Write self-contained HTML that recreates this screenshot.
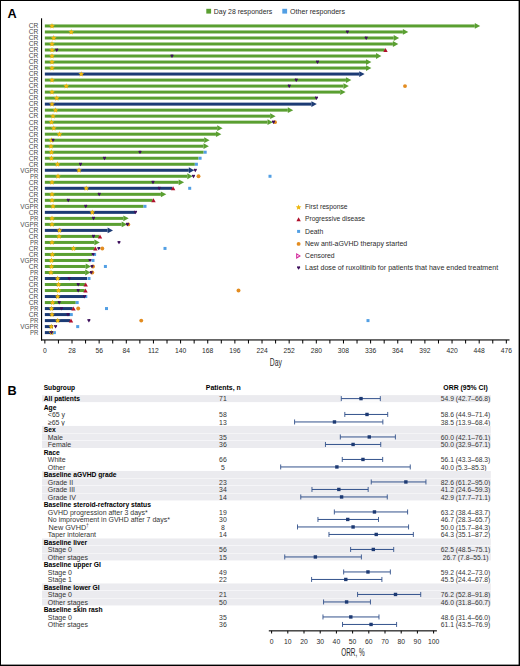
<!DOCTYPE html>
<html><head><meta charset="utf-8"><style>
html,body{margin:0;padding:0;background:#fff;}
svg{display:block;font-family:"Liberation Sans", sans-serif;}
</style></head><body>
<svg width="520" height="666" viewBox="0 0 520 666">
<rect x="0" y="0" width="520" height="666" fill="#000"/>
<rect x="1" y="1" width="517.6" height="663.6" fill="#fff"/>
<text x="7.6" y="18" font-size="12.7" font-weight="bold" fill="#000">A</text>
<rect x="206.30" y="8.80" width="4.8" height="4.8" fill="#5a9f31"/>
<text x="213.8" y="13.8" font-size="7.1" textLength="58.5" lengthAdjust="spacingAndGlyphs" fill="#2a2a2a">Day 28 responders</text>
<rect x="282.30" y="8.80" width="4.8" height="4.8" fill="#529fe4"/>
<text x="290.1" y="13.8" font-size="7.1" textLength="54.9" lengthAdjust="spacingAndGlyphs" fill="#2a2a2a">Other responders</text>
<rect x="41" y="18.3" width="1.1" height="322.2" fill="#000"/>
<rect x="41" y="339.4" width="468.5" height="1.1" fill="#000"/>
<rect x="44.35" y="340" width="1" height="3.5" fill="#000"/>
<rect x="57.92" y="340" width="1" height="3.5" fill="#000"/>
<rect x="71.50" y="340" width="1" height="3.5" fill="#000"/>
<rect x="85.07" y="340" width="1" height="3.5" fill="#000"/>
<rect x="98.64" y="340" width="1" height="3.5" fill="#000"/>
<rect x="112.22" y="340" width="1" height="3.5" fill="#000"/>
<rect x="125.79" y="340" width="1" height="3.5" fill="#000"/>
<rect x="139.36" y="340" width="1" height="3.5" fill="#000"/>
<rect x="152.93" y="340" width="1" height="3.5" fill="#000"/>
<rect x="166.51" y="340" width="1" height="3.5" fill="#000"/>
<rect x="180.08" y="340" width="1" height="3.5" fill="#000"/>
<rect x="193.65" y="340" width="1" height="3.5" fill="#000"/>
<rect x="207.23" y="340" width="1" height="3.5" fill="#000"/>
<rect x="220.80" y="340" width="1" height="3.5" fill="#000"/>
<rect x="234.37" y="340" width="1" height="3.5" fill="#000"/>
<rect x="247.94" y="340" width="1" height="3.5" fill="#000"/>
<rect x="261.52" y="340" width="1" height="3.5" fill="#000"/>
<rect x="275.09" y="340" width="1" height="3.5" fill="#000"/>
<rect x="288.66" y="340" width="1" height="3.5" fill="#000"/>
<rect x="302.24" y="340" width="1" height="3.5" fill="#000"/>
<rect x="315.81" y="340" width="1" height="3.5" fill="#000"/>
<rect x="329.38" y="340" width="1" height="3.5" fill="#000"/>
<rect x="342.96" y="340" width="1" height="3.5" fill="#000"/>
<rect x="356.53" y="340" width="1" height="3.5" fill="#000"/>
<rect x="370.10" y="340" width="1" height="3.5" fill="#000"/>
<rect x="383.68" y="340" width="1" height="3.5" fill="#000"/>
<rect x="397.25" y="340" width="1" height="3.5" fill="#000"/>
<rect x="410.82" y="340" width="1" height="3.5" fill="#000"/>
<rect x="424.39" y="340" width="1" height="3.5" fill="#000"/>
<rect x="437.97" y="340" width="1" height="3.5" fill="#000"/>
<rect x="451.54" y="340" width="1" height="3.5" fill="#000"/>
<rect x="465.11" y="340" width="1" height="3.5" fill="#000"/>
<rect x="478.69" y="340" width="1" height="3.5" fill="#000"/>
<rect x="492.26" y="340" width="1" height="3.5" fill="#000"/>
<rect x="505.83" y="340" width="1" height="3.5" fill="#000"/>
<text x="44.85" y="352.9" font-size="7.2" text-anchor="middle" textLength="3.75" lengthAdjust="spacingAndGlyphs" fill="#2a2a2a">0</text>
<text x="72.0" y="352.9" font-size="7.2" text-anchor="middle" textLength="7.51" lengthAdjust="spacingAndGlyphs" fill="#2a2a2a">28</text>
<text x="99.14" y="352.9" font-size="7.2" text-anchor="middle" textLength="7.51" lengthAdjust="spacingAndGlyphs" fill="#2a2a2a">56</text>
<text x="126.29" y="352.9" font-size="7.2" text-anchor="middle" textLength="7.51" lengthAdjust="spacingAndGlyphs" fill="#2a2a2a">84</text>
<text x="153.43" y="352.9" font-size="7.2" text-anchor="middle" textLength="10.76" lengthAdjust="spacingAndGlyphs" fill="#2a2a2a">112</text>
<text x="180.58" y="352.9" font-size="7.2" text-anchor="middle" textLength="11.26" lengthAdjust="spacingAndGlyphs" fill="#2a2a2a">140</text>
<text x="207.73" y="352.9" font-size="7.2" text-anchor="middle" textLength="11.26" lengthAdjust="spacingAndGlyphs" fill="#2a2a2a">168</text>
<text x="234.87" y="352.9" font-size="7.2" text-anchor="middle" textLength="11.26" lengthAdjust="spacingAndGlyphs" fill="#2a2a2a">196</text>
<text x="262.02" y="352.9" font-size="7.2" text-anchor="middle" textLength="11.26" lengthAdjust="spacingAndGlyphs" fill="#2a2a2a">224</text>
<text x="289.16" y="352.9" font-size="7.2" text-anchor="middle" textLength="11.26" lengthAdjust="spacingAndGlyphs" fill="#2a2a2a">252</text>
<text x="316.31" y="352.9" font-size="7.2" text-anchor="middle" textLength="11.26" lengthAdjust="spacingAndGlyphs" fill="#2a2a2a">280</text>
<text x="343.46" y="352.9" font-size="7.2" text-anchor="middle" textLength="11.26" lengthAdjust="spacingAndGlyphs" fill="#2a2a2a">308</text>
<text x="370.6" y="352.9" font-size="7.2" text-anchor="middle" textLength="11.26" lengthAdjust="spacingAndGlyphs" fill="#2a2a2a">336</text>
<text x="397.75" y="352.9" font-size="7.2" text-anchor="middle" textLength="11.26" lengthAdjust="spacingAndGlyphs" fill="#2a2a2a">364</text>
<text x="424.89" y="352.9" font-size="7.2" text-anchor="middle" textLength="11.26" lengthAdjust="spacingAndGlyphs" fill="#2a2a2a">392</text>
<text x="452.04" y="352.9" font-size="7.2" text-anchor="middle" textLength="11.26" lengthAdjust="spacingAndGlyphs" fill="#2a2a2a">420</text>
<text x="479.19" y="352.9" font-size="7.2" text-anchor="middle" textLength="11.26" lengthAdjust="spacingAndGlyphs" fill="#2a2a2a">448</text>
<text x="506.33" y="352.9" font-size="7.2" text-anchor="middle" textLength="11.26" lengthAdjust="spacingAndGlyphs" fill="#2a2a2a">476</text>
<text x="275.8" y="365.8" font-size="10.0" text-anchor="middle" textLength="12.1" lengthAdjust="spacingAndGlyphs" fill="#2a2a2a">Day</text>
<rect x="44.85" y="24.45" width="429.95" height="3" fill="#5a9f31"/>
<polygon points="474.80,23.05 480.20,25.95 474.80,28.85" fill="#5a9f31"/>
<text x="38.3" y="28.3" font-size="7.6" text-anchor="end" textLength="9.6" lengthAdjust="spacingAndGlyphs" fill="#4a4a4a">CR</text>
<rect x="44.85" y="30.46" width="358.05" height="3" fill="#5a9f31"/>
<polygon points="402.90,29.06 408.30,31.96 402.90,34.86" fill="#5a9f31"/>
<text x="38.3" y="34.31" font-size="7.6" text-anchor="end" textLength="9.6" lengthAdjust="spacingAndGlyphs" fill="#4a4a4a">CR</text>
<rect x="44.85" y="36.48" width="348.85" height="3" fill="#5a9f31"/>
<polygon points="393.70,35.08 399.10,37.98 393.70,40.88" fill="#5a9f31"/>
<text x="38.3" y="40.33" font-size="7.6" text-anchor="end" textLength="9.6" lengthAdjust="spacingAndGlyphs" fill="#4a4a4a">CR</text>
<rect x="44.85" y="42.49" width="348.05" height="3" fill="#5a9f31"/>
<polygon points="392.90,41.09 398.30,43.99 392.90,46.89" fill="#5a9f31"/>
<text x="38.3" y="46.34" font-size="7.6" text-anchor="end" textLength="9.6" lengthAdjust="spacingAndGlyphs" fill="#4a4a4a">CR</text>
<rect x="44.85" y="48.50" width="339.95" height="3" fill="#5a9f31"/>
<text x="38.3" y="52.35" font-size="7.6" text-anchor="end" textLength="9.6" lengthAdjust="spacingAndGlyphs" fill="#4a4a4a">CR</text>
<rect x="44.85" y="54.52" width="331.15" height="3" fill="#5a9f31"/>
<polygon points="376.00,53.12 381.40,56.02 376.00,58.91" fill="#5a9f31"/>
<text x="38.3" y="58.37" font-size="7.6" text-anchor="end" textLength="9.6" lengthAdjust="spacingAndGlyphs" fill="#4a4a4a">CR</text>
<rect x="44.85" y="60.53" width="321.15" height="3" fill="#5a9f31"/>
<polygon points="366.00,59.13 371.40,62.03 366.00,64.93" fill="#5a9f31"/>
<text x="38.3" y="64.38" font-size="7.6" text-anchor="end" textLength="9.6" lengthAdjust="spacingAndGlyphs" fill="#4a4a4a">CR</text>
<rect x="44.85" y="66.54" width="321.15" height="3" fill="#5a9f31"/>
<polygon points="366.00,65.14 371.40,68.04 366.00,70.94" fill="#5a9f31"/>
<text x="38.3" y="70.39" font-size="7.6" text-anchor="end" textLength="9.6" lengthAdjust="spacingAndGlyphs" fill="#4a4a4a">CR</text>
<rect x="44.85" y="72.55" width="314.35" height="3" fill="#1c3b74"/>
<polygon points="359.20,71.15 364.60,74.05 359.20,76.95" fill="#1c3b74"/>
<text x="38.3" y="76.4" font-size="7.6" text-anchor="end" textLength="9.6" lengthAdjust="spacingAndGlyphs" fill="#4a4a4a">CR</text>
<rect x="44.85" y="78.57" width="301.10" height="3" fill="#5a9f31"/>
<polygon points="345.95,77.17 351.35,80.07 345.95,82.97" fill="#5a9f31"/>
<text x="38.3" y="82.42" font-size="7.6" text-anchor="end" textLength="9.6" lengthAdjust="spacingAndGlyphs" fill="#4a4a4a">CR</text>
<rect x="44.85" y="84.58" width="298.60" height="3" fill="#5a9f31"/>
<polygon points="343.45,83.18 348.85,86.08 343.45,88.98" fill="#5a9f31"/>
<text x="38.3" y="88.43" font-size="7.6" text-anchor="end" textLength="9.6" lengthAdjust="spacingAndGlyphs" fill="#4a4a4a">CR</text>
<rect x="44.85" y="90.59" width="295.35" height="3" fill="#5a9f31"/>
<polygon points="340.20,89.19 345.60,92.09 340.20,94.99" fill="#5a9f31"/>
<text x="38.3" y="94.44" font-size="7.6" text-anchor="end" textLength="9.6" lengthAdjust="spacingAndGlyphs" fill="#4a4a4a">CR</text>
<rect x="44.85" y="96.61" width="271.40" height="3" fill="#5a9f31"/>
<text x="38.3" y="100.46" font-size="7.6" text-anchor="end" textLength="9.6" lengthAdjust="spacingAndGlyphs" fill="#4a4a4a">CR</text>
<rect x="44.85" y="102.62" width="266.55" height="3" fill="#1c3b74"/>
<polygon points="311.40,101.22 316.80,104.12 311.40,107.02" fill="#1c3b74"/>
<text x="38.3" y="106.47" font-size="7.6" text-anchor="end" textLength="9.6" lengthAdjust="spacingAndGlyphs" fill="#4a4a4a">CR</text>
<rect x="44.85" y="108.63" width="242.95" height="3" fill="#5a9f31"/>
<polygon points="287.80,107.23 293.20,110.13 287.80,113.03" fill="#5a9f31"/>
<text x="38.3" y="112.48" font-size="7.6" text-anchor="end" textLength="9.6" lengthAdjust="spacingAndGlyphs" fill="#4a4a4a">CR</text>
<rect x="44.85" y="114.64" width="225.35" height="3" fill="#5a9f31"/>
<polygon points="270.20,113.24 275.60,116.14 270.20,119.05" fill="#5a9f31"/>
<text x="38.3" y="118.49" font-size="7.6" text-anchor="end" textLength="9.6" lengthAdjust="spacingAndGlyphs" fill="#4a4a4a">CR</text>
<rect x="44.85" y="120.66" width="222.65" height="3" fill="#5a9f31"/>
<polygon points="267.50,119.26 272.90,122.16 267.50,125.06" fill="#5a9f31"/>
<text x="38.3" y="124.51" font-size="7.6" text-anchor="end" textLength="9.6" lengthAdjust="spacingAndGlyphs" fill="#4a4a4a">CR</text>
<rect x="44.85" y="126.67" width="172.35" height="3" fill="#5a9f31"/>
<polygon points="217.20,125.27 222.60,128.17 217.20,131.07" fill="#5a9f31"/>
<text x="38.3" y="130.52" font-size="7.6" text-anchor="end" textLength="9.6" lengthAdjust="spacingAndGlyphs" fill="#4a4a4a">CR</text>
<rect x="44.85" y="132.68" width="171.10" height="3" fill="#5a9f31"/>
<polygon points="215.95,131.28 221.35,134.18 215.95,137.08" fill="#5a9f31"/>
<text x="38.3" y="136.53" font-size="7.6" text-anchor="end" textLength="9.6" lengthAdjust="spacingAndGlyphs" fill="#4a4a4a">CR</text>
<rect x="44.85" y="138.70" width="159.35" height="3" fill="#5a9f31"/>
<polygon points="204.20,137.30 209.60,140.20 204.20,143.10" fill="#5a9f31"/>
<text x="38.3" y="142.55" font-size="7.6" text-anchor="end" textLength="9.6" lengthAdjust="spacingAndGlyphs" fill="#4a4a4a">CR</text>
<rect x="44.85" y="144.71" width="158.65" height="3" fill="#5a9f31"/>
<polygon points="203.50,143.31 208.90,146.21 203.50,149.11" fill="#5a9f31"/>
<text x="38.3" y="148.56" font-size="7.6" text-anchor="end" textLength="9.6" lengthAdjust="spacingAndGlyphs" fill="#4a4a4a">CR</text>
<rect x="44.85" y="150.72" width="158.75" height="3" fill="#5a9f31"/>
<text x="38.3" y="154.57" font-size="7.6" text-anchor="end" textLength="9.6" lengthAdjust="spacingAndGlyphs" fill="#4a4a4a">CR</text>
<rect x="44.85" y="156.74" width="153.65" height="3" fill="#5a9f31"/>
<text x="38.3" y="160.59" font-size="7.6" text-anchor="end" textLength="9.6" lengthAdjust="spacingAndGlyphs" fill="#4a4a4a">CR</text>
<rect x="44.85" y="162.75" width="149.95" height="3" fill="#5a9f31"/>
<text x="38.3" y="166.6" font-size="7.6" text-anchor="end" textLength="9.6" lengthAdjust="spacingAndGlyphs" fill="#4a4a4a">CR</text>
<rect x="44.85" y="168.76" width="143.95" height="3" fill="#1c3b74"/>
<polygon points="188.80,167.36 194.20,170.26 188.80,173.16" fill="#1c3b74"/>
<text x="38.3" y="172.61" font-size="7.6" text-anchor="end" textLength="18.0" lengthAdjust="spacingAndGlyphs" fill="#4a4a4a">VGPR</text>
<rect x="44.85" y="174.77" width="142.45" height="3" fill="#5a9f31"/>
<polygon points="187.30,173.37 192.70,176.27 187.30,179.17" fill="#5a9f31"/>
<text x="38.3" y="178.62" font-size="7.6" text-anchor="end" textLength="8.3" lengthAdjust="spacingAndGlyphs" fill="#4a4a4a">PR</text>
<rect x="44.85" y="180.79" width="133.85" height="3" fill="#5a9f31"/>
<polygon points="178.70,179.39 184.10,182.29 178.70,185.19" fill="#5a9f31"/>
<text x="38.3" y="184.64" font-size="7.6" text-anchor="end" textLength="9.6" lengthAdjust="spacingAndGlyphs" fill="#4a4a4a">CR</text>
<rect x="44.85" y="186.80" width="127.45" height="3" fill="#1c3b74"/>
<text x="38.3" y="190.65" font-size="7.6" text-anchor="end" textLength="9.6" lengthAdjust="spacingAndGlyphs" fill="#4a4a4a">CR</text>
<rect x="44.85" y="192.81" width="116.05" height="3" fill="#5a9f31"/>
<polygon points="160.90,191.41 166.30,194.31 160.90,197.21" fill="#5a9f31"/>
<text x="38.3" y="196.66" font-size="7.6" text-anchor="end" textLength="9.6" lengthAdjust="spacingAndGlyphs" fill="#4a4a4a">CR</text>
<rect x="44.85" y="198.83" width="107.85" height="3" fill="#5a9f31"/>
<text x="38.3" y="202.68" font-size="7.6" text-anchor="end" textLength="9.6" lengthAdjust="spacingAndGlyphs" fill="#4a4a4a">CR</text>
<rect x="44.85" y="204.84" width="98.65" height="3" fill="#5a9f31"/>
<text x="38.3" y="208.69" font-size="7.6" text-anchor="end" textLength="18.0" lengthAdjust="spacingAndGlyphs" fill="#4a4a4a">VGPR</text>
<rect x="44.85" y="210.85" width="90.15" height="3" fill="#1c3b74"/>
<text x="38.3" y="214.7" font-size="7.6" text-anchor="end" textLength="9.6" lengthAdjust="spacingAndGlyphs" fill="#4a4a4a">CR</text>
<rect x="44.85" y="216.87" width="78.45" height="3" fill="#5a9f31"/>
<polygon points="123.30,215.47 128.70,218.37 123.30,221.27" fill="#5a9f31"/>
<text x="38.3" y="220.72" font-size="7.6" text-anchor="end" textLength="8.3" lengthAdjust="spacingAndGlyphs" fill="#4a4a4a">PR</text>
<rect x="44.85" y="222.88" width="76.85" height="3" fill="#5a9f31"/>
<polygon points="121.70,221.48 127.10,224.38 121.70,227.28" fill="#5a9f31"/>
<text x="38.3" y="226.73" font-size="7.6" text-anchor="end" textLength="18.0" lengthAdjust="spacingAndGlyphs" fill="#4a4a4a">VGPR</text>
<rect x="44.85" y="228.89" width="62.75" height="3" fill="#1c3b74"/>
<polygon points="107.60,227.49 113.00,230.39 107.60,233.29" fill="#1c3b74"/>
<text x="38.3" y="232.74" font-size="7.6" text-anchor="end" textLength="9.6" lengthAdjust="spacingAndGlyphs" fill="#4a4a4a">CR</text>
<rect x="44.85" y="234.90" width="54.35" height="3" fill="#5a9f31"/>
<text x="38.3" y="238.75" font-size="7.6" text-anchor="end" textLength="9.6" lengthAdjust="spacingAndGlyphs" fill="#4a4a4a">CR</text>
<rect x="44.85" y="240.92" width="49.55" height="3" fill="#5a9f31"/>
<polygon points="94.40,239.52 99.80,242.42 94.40,245.32" fill="#5a9f31"/>
<text x="38.3" y="244.77" font-size="7.6" text-anchor="end" textLength="8.3" lengthAdjust="spacingAndGlyphs" fill="#4a4a4a">PR</text>
<rect x="44.85" y="246.93" width="49.75" height="3" fill="#5a9f31"/>
<text x="38.3" y="250.78" font-size="7.6" text-anchor="end" textLength="9.6" lengthAdjust="spacingAndGlyphs" fill="#4a4a4a">CR</text>
<rect x="44.85" y="252.94" width="47.45" height="3" fill="#5a9f31"/>
<text x="38.3" y="256.79" font-size="7.6" text-anchor="end" textLength="9.6" lengthAdjust="spacingAndGlyphs" fill="#4a4a4a">CR</text>
<rect x="44.85" y="258.96" width="44.35" height="3" fill="#5a9f31"/>
<text x="38.3" y="262.81" font-size="7.6" text-anchor="end" textLength="18.0" lengthAdjust="spacingAndGlyphs" fill="#4a4a4a">VGPR</text>
<rect x="44.85" y="264.97" width="40.85" height="3" fill="#5a9f31"/>
<polygon points="85.70,263.57 91.10,266.47 85.70,269.37" fill="#5a9f31"/>
<text x="38.3" y="268.82" font-size="7.6" text-anchor="end" textLength="9.6" lengthAdjust="spacingAndGlyphs" fill="#4a4a4a">CR</text>
<rect x="44.85" y="270.98" width="40.35" height="3" fill="#5a9f31"/>
<polygon points="85.20,269.58 90.60,272.48 85.20,275.38" fill="#5a9f31"/>
<text x="38.3" y="274.83" font-size="7.6" text-anchor="end" textLength="8.3" lengthAdjust="spacingAndGlyphs" fill="#4a4a4a">PR</text>
<rect x="44.85" y="277.00" width="42.15" height="3" fill="#1c3b74"/>
<text x="38.3" y="280.85" font-size="7.6" text-anchor="end" textLength="9.6" lengthAdjust="spacingAndGlyphs" fill="#4a4a4a">CR</text>
<rect x="44.85" y="283.01" width="40.05" height="3" fill="#5a9f31"/>
<text x="38.3" y="286.86" font-size="7.6" text-anchor="end" textLength="9.6" lengthAdjust="spacingAndGlyphs" fill="#4a4a4a">CR</text>
<rect x="44.85" y="289.02" width="39.85" height="3" fill="#5a9f31"/>
<text x="38.3" y="292.87" font-size="7.6" text-anchor="end" textLength="9.6" lengthAdjust="spacingAndGlyphs" fill="#4a4a4a">CR</text>
<rect x="44.85" y="295.03" width="39.75" height="3" fill="#1c3b74"/>
<text x="38.3" y="298.88" font-size="7.6" text-anchor="end" textLength="9.6" lengthAdjust="spacingAndGlyphs" fill="#4a4a4a">CR</text>
<rect x="44.85" y="301.05" width="30.85" height="3" fill="#5a9f31"/>
<text x="38.3" y="304.9" font-size="7.6" text-anchor="end" textLength="9.6" lengthAdjust="spacingAndGlyphs" fill="#4a4a4a">CR</text>
<rect x="44.85" y="307.06" width="27.85" height="3" fill="#1c3b74"/>
<text x="38.3" y="310.91" font-size="7.6" text-anchor="end" textLength="8.3" lengthAdjust="spacingAndGlyphs" fill="#4a4a4a">PR</text>
<rect x="44.85" y="313.07" width="25.15" height="3" fill="#1c3b74"/>
<text x="38.3" y="316.92" font-size="7.6" text-anchor="end" textLength="9.6" lengthAdjust="spacingAndGlyphs" fill="#4a4a4a">CR</text>
<rect x="44.85" y="319.09" width="25.35" height="3" fill="#1c3b74"/>
<text x="38.3" y="322.94" font-size="7.6" text-anchor="end" textLength="8.3" lengthAdjust="spacingAndGlyphs" fill="#4a4a4a">PR</text>
<rect x="44.85" y="325.10" width="8.15" height="3" fill="#1c3b74"/>
<text x="38.3" y="328.95" font-size="7.6" text-anchor="end" textLength="18.0" lengthAdjust="spacingAndGlyphs" fill="#4a4a4a">VGPR</text>
<rect x="44.85" y="331.11" width="8.95" height="3" fill="#1c3b74"/>
<text x="38.3" y="334.96" font-size="7.6" text-anchor="end" textLength="8.3" lengthAdjust="spacingAndGlyphs" fill="#4a4a4a">PR</text>
<polygon points="52.00,23.05 52.79,24.96 54.85,25.12 53.28,26.47 53.76,28.48 52.00,27.40 50.24,28.48 50.72,26.47 49.15,25.12 51.21,24.96" fill="#edb70e"/>
<path d="M345.80,31.46 C345.80,30.26 347.00,30.16 347.40,30.86 C347.80,30.16 349.00,30.26 349.00,31.46 L347.40,33.86 Z" fill="#3d0f5c"/>
<polygon points="71.25,29.06 72.04,30.97 74.10,31.14 72.53,32.48 73.01,34.49 71.25,33.41 69.49,34.49 69.97,32.48 68.40,31.14 70.46,30.97" fill="#edb70e"/>
<path d="M364.60,37.48 C364.60,36.28 365.80,36.18 366.20,36.88 C366.60,36.18 367.80,36.28 367.80,37.48 L366.20,39.88 Z" fill="#3d0f5c"/>
<polygon points="53.75,35.08 54.54,36.98 56.60,37.15 55.03,38.49 55.51,40.50 53.75,39.43 51.99,40.50 52.47,38.49 50.90,37.15 52.96,36.98" fill="#edb70e"/>
<polygon points="52.00,41.09 52.79,43.00 54.85,43.16 53.28,44.51 53.76,46.52 52.00,45.44 50.24,46.52 50.72,44.51 49.15,43.16 51.21,43.00" fill="#edb70e"/>
<polygon points="383.30,52.00 387.70,52.00 385.50,48.00" fill="#b0102c"/>
<path d="M55.15,49.50 C55.15,48.30 56.35,48.20 56.75,48.90 C57.15,48.20 58.35,48.30 58.35,49.50 L56.75,51.90 Z" fill="#3d0f5c"/>
<polygon points="52.00,47.10 52.79,49.01 54.85,49.17 53.28,50.52 53.76,52.53 52.00,51.45 50.24,52.53 50.72,50.52 49.15,49.17 51.21,49.01" fill="#edb70e"/>
<path d="M170.40,55.52 C170.40,54.31 171.60,54.22 172.00,54.91 C172.40,54.22 173.60,54.31 173.60,55.52 L172.00,57.91 Z" fill="#3d0f5c"/>
<polygon points="52.00,53.12 52.79,55.02 54.85,55.19 53.28,56.53 53.76,58.54 52.00,57.47 50.24,58.54 50.72,56.53 49.15,55.19 51.21,55.02" fill="#edb70e"/>
<path d="M315.90,61.53 C315.90,60.33 317.10,60.23 317.50,60.93 C317.90,60.23 319.10,60.33 319.10,61.53 L317.50,63.93 Z" fill="#3d0f5c"/>
<polygon points="52.00,59.13 52.79,61.04 54.85,61.20 53.28,62.55 53.76,64.56 52.00,63.48 50.24,64.56 50.72,62.55 49.15,61.20 51.21,61.04" fill="#edb70e"/>
<polygon points="52.00,65.14 52.79,67.05 54.85,67.21 53.28,68.56 53.76,70.57 52.00,69.49 50.24,70.57 50.72,68.56 49.15,67.21 51.21,67.05" fill="#edb70e"/>
<polygon points="81.25,71.15 82.04,73.06 84.10,73.23 82.53,74.57 83.01,76.58 81.25,75.50 79.49,76.58 79.97,74.57 78.40,73.23 80.46,73.06" fill="#edb70e"/>
<path d="M294.65,79.57 C294.65,78.37 295.85,78.27 296.25,78.97 C296.65,78.27 297.85,78.37 297.85,79.57 L296.25,81.97 Z" fill="#3d0f5c"/>
<polygon points="52.00,77.17 52.79,79.07 54.85,79.24 53.28,80.58 53.76,82.59 52.00,81.52 50.24,82.59 50.72,80.58 49.15,79.24 51.21,79.07" fill="#edb70e"/>
<circle cx="405.00" cy="86.08" r="1.95" fill="#e38c20"/>
<path d="M287.65,85.58 C287.65,84.38 288.85,84.28 289.25,84.98 C289.65,84.28 290.85,84.38 290.85,85.58 L289.25,87.98 Z" fill="#3d0f5c"/>
<polygon points="66.25,83.18 67.04,85.09 69.10,85.25 67.53,86.60 68.01,88.61 66.25,87.53 64.49,88.61 64.97,86.60 63.40,85.25 65.46,85.09" fill="#edb70e"/>
<polygon points="52.00,89.19 52.79,91.10 54.85,91.27 53.28,92.61 53.76,94.62 52.00,93.54 50.24,94.62 50.72,92.61 49.15,91.27 51.21,91.10" fill="#edb70e"/>
<path d="M314.90,97.61 C314.90,96.41 316.10,96.31 316.50,97.01 C316.90,96.31 318.10,96.41 318.10,97.61 L316.50,100.01 Z" fill="#3d0f5c"/>
<polygon points="56.75,95.21 57.54,97.11 59.60,97.28 58.03,98.62 58.51,100.63 56.75,99.56 54.99,100.63 55.47,98.62 53.90,97.28 55.96,97.11" fill="#edb70e"/>
<polygon points="52.00,101.22 52.79,103.13 54.85,103.29 53.28,104.64 53.76,106.65 52.00,105.57 50.24,106.65 50.72,104.64 49.15,103.29 51.21,103.13" fill="#edb70e"/>
<polygon points="55.50,107.23 56.29,109.14 58.35,109.30 56.78,110.65 57.26,112.66 55.50,111.58 53.74,112.66 54.22,110.65 52.65,109.30 54.71,109.14" fill="#edb70e"/>
<polygon points="53.00,113.24 53.79,115.15 55.85,115.32 54.28,116.66 54.76,118.67 53.00,117.59 51.24,118.67 51.72,116.66 50.15,115.32 52.21,115.15" fill="#edb70e"/>
<circle cx="275.00" cy="122.16" r="1.95" fill="#e38c20"/>
<path d="M271.90,121.66 C271.90,120.46 273.10,120.36 273.50,121.06 C273.90,120.36 275.10,120.46 275.10,121.66 L273.50,124.06 Z" fill="#3d0f5c"/>
<polygon points="51.50,119.26 52.29,121.17 54.35,121.33 52.78,122.68 53.26,124.69 51.50,123.61 49.74,124.69 50.22,122.68 48.65,121.33 50.71,121.17" fill="#edb70e"/>
<polygon points="53.75,125.27 54.54,127.18 56.60,127.34 55.03,128.69 55.51,130.70 53.75,129.62 51.99,130.70 52.47,128.69 50.90,127.34 52.96,127.18" fill="#edb70e"/>
<polygon points="59.50,131.28 60.29,133.19 62.35,133.36 60.78,134.70 61.26,136.71 59.50,135.63 57.74,136.71 58.22,134.70 56.65,133.36 58.71,133.19" fill="#edb70e"/>
<polygon points="51.50,137.30 52.29,139.20 54.35,139.37 52.78,140.71 53.26,142.72 51.50,141.65 49.74,142.72 50.22,140.71 48.65,139.37 50.71,139.20" fill="#edb70e"/>
<path d="M51.40,139.70 C51.40,138.50 52.60,138.40 53.00,139.10 C53.40,138.40 54.60,138.50 54.60,139.70 L53.00,142.10 Z" fill="#3d0f5c"/>
<polygon points="51.00,143.31 51.79,145.22 53.85,145.38 52.28,146.73 52.76,148.74 51.00,147.66 49.24,148.74 49.72,146.73 48.15,145.38 50.21,145.22" fill="#edb70e"/>
<rect x="203.70" y="150.72" width="3.0" height="3.0" fill="#529fe4"/>
<path d="M138.40,151.72 C138.40,150.52 139.60,150.42 140.00,151.12 C140.40,150.42 141.60,150.52 141.60,151.72 L140.00,154.12 Z" fill="#3d0f5c"/>
<polygon points="51.50,149.32 52.29,151.23 54.35,151.40 52.78,152.74 53.26,154.75 51.50,153.67 49.74,154.75 50.22,152.74 48.65,151.40 50.71,151.23" fill="#edb70e"/>
<rect x="198.60" y="156.74" width="3.0" height="3.0" fill="#529fe4"/>
<path d="M102.90,157.74 C102.90,156.54 104.10,156.44 104.50,157.14 C104.90,156.44 106.10,156.54 106.10,157.74 L104.50,160.14 Z" fill="#3d0f5c"/>
<polygon points="51.50,155.34 52.29,157.24 54.35,157.41 52.78,158.75 53.26,160.76 51.50,159.69 49.74,160.76 50.22,158.75 48.65,157.41 50.71,157.24" fill="#edb70e"/>
<rect x="194.90" y="162.75" width="3.0" height="3.0" fill="#529fe4"/>
<path d="M78.90,163.75 C78.90,162.55 80.10,162.45 80.50,163.15 C80.90,162.45 82.10,162.55 82.10,163.75 L80.50,166.15 Z" fill="#3d0f5c"/>
<polygon points="57.50,161.35 58.29,163.26 60.35,163.42 58.78,164.77 59.26,166.78 57.50,165.70 55.74,166.78 56.22,164.77 54.65,163.42 56.71,163.26" fill="#edb70e"/>
<path d="M193.70,169.76 C193.70,168.56 194.90,168.46 195.30,169.16 C195.70,168.46 196.90,168.56 196.90,169.76 L195.30,172.16 Z" fill="#3d0f5c"/>
<polygon points="79.00,167.36 79.79,169.27 81.85,169.43 80.28,170.78 80.76,172.79 79.00,171.71 77.24,172.79 77.72,170.78 76.15,169.43 78.21,169.27" fill="#edb70e"/>
<circle cx="198.50" cy="176.27" r="1.95" fill="#e38c20"/>
<rect x="268.50" y="174.77" width="3.0" height="3.0" fill="#529fe4"/>
<path d="M191.90,175.77 C191.90,174.57 193.10,174.47 193.50,175.17 C193.90,174.47 195.10,174.57 195.10,175.77 L193.50,178.17 Z" fill="#3d0f5c"/>
<polygon points="58.00,173.37 58.79,175.28 60.85,175.45 59.28,176.79 59.76,178.80 58.00,177.72 56.24,178.80 56.72,176.79 55.15,175.45 57.21,175.28" fill="#edb70e"/>
<path d="M151.40,181.79 C151.40,180.59 152.60,180.49 153.00,181.19 C153.40,180.49 154.60,180.59 154.60,181.79 L153.00,184.19 Z" fill="#3d0f5c"/>
<polygon points="52.00,179.39 52.79,181.30 54.85,181.46 53.28,182.81 53.76,184.82 52.00,183.74 50.24,184.82 50.72,182.81 49.15,181.46 51.21,181.30" fill="#edb70e"/>
<rect x="188.20" y="186.80" width="3.0" height="3.0" fill="#529fe4"/>
<polygon points="170.90,190.30 175.30,190.30 173.10,186.30" fill="#b0102c"/>
<path d="M157.60,187.80 C157.60,186.60 158.80,186.50 159.20,187.20 C159.60,186.50 160.80,186.60 160.80,187.80 L159.20,190.20 Z" fill="#3d0f5c"/>
<polygon points="86.25,185.40 87.04,187.31 89.10,187.47 87.53,188.82 88.01,190.83 86.25,189.75 84.49,190.83 84.97,188.82 83.40,187.47 85.46,187.31" fill="#edb70e"/>
<path d="M97.60,193.81 C97.60,192.61 98.80,192.51 99.20,193.21 C99.60,192.51 100.80,192.61 100.80,193.81 L99.20,196.21 Z" fill="#3d0f5c"/>
<polygon points="52.00,191.41 52.79,193.32 54.85,193.49 53.28,194.83 53.76,196.84 52.00,195.76 50.24,196.84 50.72,194.83 49.15,193.49 51.21,193.32" fill="#edb70e"/>
<polygon points="151.30,202.33 155.70,202.33 153.50,198.33" fill="#b0102c"/>
<path d="M66.65,199.83 C66.65,198.63 67.85,198.53 68.25,199.23 C68.65,198.53 69.85,198.63 69.85,199.83 L68.25,202.23 Z" fill="#3d0f5c"/>
<polygon points="52.00,197.43 52.79,199.33 54.85,199.50 53.28,200.84 53.76,202.85 52.00,201.78 50.24,202.85 50.72,200.84 49.15,199.50 51.21,199.33" fill="#edb70e"/>
<rect x="143.50" y="204.84" width="3.0" height="3.0" fill="#529fe4"/>
<path d="M84.15,205.84 C84.15,204.64 85.35,204.54 85.75,205.24 C86.15,204.54 87.35,204.64 87.35,205.84 L85.75,208.24 Z" fill="#3d0f5c"/>
<polygon points="53.00,203.44 53.79,205.35 55.85,205.51 54.28,206.86 54.76,208.87 53.00,207.79 51.24,208.87 51.72,206.86 50.15,205.51 52.21,205.35" fill="#edb70e"/>
<path d="M133.90,211.85 C133.90,210.65 135.10,210.55 135.50,211.25 C135.90,210.55 137.10,210.65 137.10,211.85 L135.50,214.25 Z" fill="#3d0f5c"/>
<polygon points="92.30,209.45 93.09,211.36 95.15,211.53 93.58,212.87 94.06,214.88 92.30,213.80 90.54,214.88 91.02,212.87 89.45,211.53 91.51,211.36" fill="#edb70e"/>
<path d="M91.90,217.87 C91.90,216.67 93.10,216.57 93.50,217.27 C93.90,216.57 95.10,216.67 95.10,217.87 L93.50,220.27 Z" fill="#3d0f5c"/>
<polygon points="52.00,215.47 52.79,217.37 54.85,217.54 53.28,218.88 53.76,220.89 52.00,219.82 50.24,220.89 50.72,218.88 49.15,217.54 51.21,217.37" fill="#edb70e"/>
<circle cx="128.30" cy="224.38" r="1.95" fill="#e38c20"/>
<path d="M125.80,223.88 C125.80,222.68 127.00,222.58 127.40,223.28 C127.80,222.58 129.00,222.68 129.00,223.88 L127.40,226.28 Z" fill="#3d0f5c"/>
<polygon points="52.00,221.48 52.79,223.39 54.85,223.55 53.28,224.90 53.76,226.91 52.00,225.83 50.24,226.91 50.72,224.90 49.15,223.55 51.21,223.39" fill="#edb70e"/>
<path d="M57.90,229.89 C57.90,228.69 59.10,228.59 59.50,229.29 C59.90,228.59 61.10,228.69 61.10,229.89 L59.50,232.29 Z" fill="#3d0f5c"/>
<polygon points="59.50,227.49 60.29,229.40 62.35,229.56 60.78,230.91 61.26,232.92 59.50,231.84 57.74,232.92 58.22,230.91 56.65,229.56 58.71,229.40" fill="#edb70e"/>
<polygon points="97.80,238.40 102.20,238.40 100.00,234.40" fill="#b0102c"/>
<path d="M91.90,235.90 C91.90,234.70 93.10,234.60 93.50,235.30 C93.90,234.60 95.10,234.70 95.10,235.90 L93.50,238.30 Z" fill="#3d0f5c"/>
<polygon points="59.00,233.50 59.79,235.41 61.85,235.58 60.28,236.92 60.76,238.93 59.00,237.85 57.24,238.93 57.72,236.92 56.15,235.58 58.21,235.41" fill="#edb70e"/>
<path d="M117.40,241.92 C117.40,240.72 118.60,240.62 119.00,241.32 C119.40,240.62 120.60,240.72 120.60,241.92 L119.00,244.32 Z" fill="#3d0f5c"/>
<polygon points="52.00,239.52 52.79,241.43 54.85,241.59 53.28,242.94 53.76,244.95 52.00,243.87 50.24,244.95 50.72,242.94 49.15,241.59 51.21,241.43" fill="#edb70e"/>
<circle cx="102.30" cy="248.43" r="1.95" fill="#e38c20"/>
<rect x="163.50" y="246.93" width="3.0" height="3.0" fill="#529fe4"/>
<polygon points="93.20,250.43 97.60,250.43 95.40,246.43" fill="#b0102c"/>
<path d="M97.20,247.93 C97.20,246.73 98.40,246.63 98.80,247.33 C99.20,246.63 100.40,246.73 100.40,247.93 L98.80,250.33 Z" fill="#3d0f5c"/>
<polygon points="73.50,245.53 74.29,247.44 76.35,247.60 74.78,248.95 75.26,250.96 73.50,249.88 71.74,250.96 72.22,248.95 70.65,247.60 72.71,247.44" fill="#edb70e"/>
<rect x="93.10" y="252.94" width="3.0" height="3.0" fill="#529fe4"/>
<path d="M91.50,253.94 C91.50,252.74 92.70,252.64 93.10,253.34 C93.50,252.64 94.70,252.74 94.70,253.94 L93.10,256.34 Z" fill="#3d0f5c"/>
<polygon points="52.30,251.54 53.09,253.45 55.15,253.62 53.58,254.96 54.06,256.97 52.30,255.89 50.54,256.97 51.02,254.96 49.45,253.62 51.51,253.45" fill="#edb70e"/>
<rect x="91.50" y="258.96" width="3.0" height="3.0" fill="#529fe4"/>
<path d="M88.40,259.96 C88.40,258.76 89.60,258.66 90.00,259.36 C90.40,258.66 91.60,258.76 91.60,259.96 L90.00,262.36 Z" fill="#3d0f5c"/>
<polygon points="51.50,257.56 52.29,259.46 54.35,259.63 52.78,260.97 53.26,262.98 51.50,261.91 49.74,262.98 50.22,260.97 48.65,259.63 50.71,259.46" fill="#edb70e"/>
<circle cx="93.00" cy="266.47" r="1.95" fill="#e38c20"/>
<rect x="103.90" y="264.97" width="3.0" height="3.0" fill="#529fe4"/>
<path d="M90.40,265.97 C90.40,264.77 91.60,264.67 92.00,265.37 C92.40,264.67 93.60,264.77 93.60,265.97 L92.00,268.37 Z" fill="#3d0f5c"/>
<polygon points="51.50,263.57 52.29,265.48 54.35,265.64 52.78,266.99 53.26,269.00 51.50,267.92 49.74,269.00 50.22,266.99 48.65,265.64 50.71,265.48" fill="#edb70e"/>
<circle cx="92.30" cy="272.48" r="1.95" fill="#e38c20"/>
<path d="M89.60,271.98 C89.60,270.78 90.80,270.68 91.20,271.38 C91.60,270.68 92.80,270.78 92.80,271.98 L91.20,274.38 Z" fill="#3d0f5c"/>
<polygon points="51.00,269.58 51.79,271.49 53.85,271.66 52.28,273.00 52.76,275.01 51.00,273.93 49.24,275.01 49.72,273.00 48.15,271.66 50.21,271.49" fill="#edb70e"/>
<rect x="87.50" y="277.00" width="3.0" height="3.0" fill="#529fe4"/>
<path d="M67.60,278.00 C67.60,276.80 68.80,276.70 69.20,277.40 C69.60,276.70 70.80,276.80 70.80,278.00 L69.20,280.40 Z" fill="#3d0f5c"/>
<polygon points="57.70,275.60 58.49,277.50 60.55,277.67 58.98,279.01 59.46,281.02 57.70,279.95 55.94,281.02 56.42,279.01 54.85,277.67 56.91,277.50" fill="#edb70e"/>
<polygon points="83.50,286.51 87.90,286.51 85.70,282.51" fill="#b0102c"/>
<path d="M76.60,284.01 C76.60,282.81 77.80,282.71 78.20,283.41 C78.60,282.71 79.80,282.81 79.80,284.01 L78.20,286.41 Z" fill="#3d0f5c"/>
<polygon points="58.50,281.61 59.29,283.52 61.35,283.68 59.78,285.03 60.26,287.04 58.50,285.96 56.74,287.04 57.22,285.03 55.65,283.68 57.71,283.52" fill="#edb70e"/>
<circle cx="238.50" cy="290.52" r="1.95" fill="#e38c20"/>
<polygon points="83.30,292.52 87.70,292.52 85.50,288.52" fill="#b0102c"/>
<path d="M76.60,290.02 C76.60,288.82 77.80,288.72 78.20,289.42 C78.60,288.72 79.80,288.82 79.80,290.02 L78.20,292.42 Z" fill="#3d0f5c"/>
<polygon points="58.50,287.62 59.29,289.53 61.35,289.69 59.78,291.04 60.26,293.05 58.50,291.97 56.74,293.05 57.22,291.04 55.65,289.69 57.71,289.53" fill="#edb70e"/>
<rect x="84.30" y="295.03" width="3.0" height="3.0" fill="#529fe4"/>
<path d="M83.00,296.03 C83.00,294.83 84.20,294.73 84.60,295.43 C85.00,294.73 86.20,294.83 86.20,296.03 L84.60,298.43 Z" fill="#3d0f5c"/>
<polygon points="57.70,293.63 58.49,295.54 60.55,295.71 58.98,297.05 59.46,299.06 57.70,297.99 55.94,299.06 56.42,297.05 54.85,295.71 56.91,295.54" fill="#edb70e"/>
<rect x="75.70" y="301.05" width="3.0" height="3.0" fill="#529fe4"/>
<path d="M57.60,302.05 C57.60,300.85 58.80,300.75 59.20,301.45 C59.60,300.75 60.80,300.85 60.80,302.05 L59.20,304.45 Z" fill="#3d0f5c"/>
<polygon points="52.60,299.65 53.39,301.56 55.45,301.72 53.88,303.07 54.36,305.08 52.60,304.00 50.84,305.08 51.32,303.07 49.75,301.72 51.81,301.56" fill="#edb70e"/>
<circle cx="78.20" cy="308.56" r="1.95" fill="#e38c20"/>
<rect x="105.00" y="307.06" width="3.0" height="3.0" fill="#529fe4"/>
<polygon points="71.30,310.56 75.70,310.56 73.50,306.56" fill="#b0102c"/>
<path d="M59.90,308.06 C59.90,306.86 61.10,306.76 61.50,307.46 C61.90,306.76 63.10,306.86 63.10,308.06 L61.50,310.46 Z" fill="#3d0f5c"/>
<polygon points="51.50,305.66 52.29,307.57 54.35,307.73 52.78,309.08 53.26,311.09 51.50,310.01 49.74,311.09 50.22,309.08 48.65,307.73 50.71,307.57" fill="#edb70e"/>
<rect x="69.80" y="313.07" width="3.0" height="3.0" fill="#529fe4"/>
<path d="M66.40,314.07 C66.40,312.87 67.60,312.77 68.00,313.47 C68.40,312.77 69.60,312.87 69.60,314.07 L68.00,316.47 Z" fill="#3d0f5c"/>
<polygon points="52.00,311.67 52.79,313.58 54.85,313.75 53.28,315.09 53.76,317.10 52.00,316.02 50.24,317.10 50.72,315.09 49.15,313.75 51.21,313.58" fill="#edb70e"/>
<circle cx="141.25" cy="320.59" r="1.95" fill="#e38c20"/>
<rect x="366.50" y="319.09" width="3.0" height="3.0" fill="#529fe4"/>
<polygon points="68.80,322.59 73.20,322.59 71.00,318.59" fill="#b0102c"/>
<path d="M87.30,320.09 C87.30,318.89 88.50,318.79 88.90,319.49 C89.30,318.79 90.50,318.89 90.50,320.09 L88.90,322.49 Z" fill="#3d0f5c"/>
<polygon points="57.70,317.69 58.49,319.59 60.55,319.76 58.98,321.10 59.46,323.11 57.70,322.04 55.94,323.11 56.42,321.10 54.85,319.76 56.91,319.59" fill="#edb70e"/>
<rect x="76.20" y="325.10" width="3.0" height="3.0" fill="#529fe4"/>
<path d="M54.00,326.10 C54.00,324.90 55.20,324.80 55.60,325.50 C56.00,324.80 57.20,324.90 57.20,326.10 L55.60,328.50 Z" fill="#3d0f5c"/>
<polygon points="51.30,323.70 52.09,325.61 54.15,325.77 52.58,327.12 53.06,329.13 51.30,328.05 49.54,329.13 50.02,327.12 48.45,325.77 50.51,325.61" fill="#edb70e"/>
<rect x="52.90" y="331.11" width="3.0" height="3.0" fill="#529fe4"/>
<polygon points="51.50,329.71 52.29,331.62 54.35,331.79 52.78,333.13 53.26,335.14 51.50,334.06 49.74,335.14 50.22,333.13 48.65,331.79 50.71,331.62" fill="#edb70e"/>
<path d="M49.90,332.11 C49.90,330.91 51.10,330.81 51.50,331.51 C51.90,330.81 53.10,330.91 53.10,332.11 L51.50,334.51 Z" fill="#3d0f5c"/>
<polygon points="298.60,204.40 299.39,206.31 301.45,206.47 299.88,207.82 300.36,209.83 298.60,208.75 296.84,209.83 297.32,207.82 295.75,206.47 297.81,206.31" fill="#edb70e"/>
<text x="305" y="209.4" font-size="6.9" textLength="42.5" lengthAdjust="spacingAndGlyphs" fill="#2a2a2a">First response</text>
<polygon points="296.40,221.25 300.80,221.25 298.60,217.25" fill="#b0102c"/>
<text x="305" y="221.35" font-size="6.9" textLength="60" lengthAdjust="spacingAndGlyphs" fill="#2a2a2a">Progressive disease</text>
<rect x="297.10" y="229.90" width="3.0" height="3.0" fill="#529fe4"/>
<text x="305" y="233.5" font-size="6.9" textLength="18.25" lengthAdjust="spacingAndGlyphs" fill="#2a2a2a">Death</text>
<circle cx="298.60" cy="243.90" r="1.95" fill="#e38c20"/>
<text x="305" y="246.0" font-size="6.9" textLength="102.2" lengthAdjust="spacingAndGlyphs" fill="#2a2a2a">New anti-aGVHD therapy started</text>
<polygon points="296.7,253.90 299.9,255.90 296.7,257.90" fill="none" stroke="#d42a9c" stroke-width="1.1"/>
<text x="305" y="258.0" font-size="6.9" textLength="29.6" lengthAdjust="spacingAndGlyphs" fill="#2a2a2a">Censored</text>
<path d="M297.00,267.40 C297.00,266.20 298.20,266.10 298.60,266.80 C299.00,266.10 300.20,266.20 300.20,267.40 L298.60,269.80 Z" fill="#3d0f5c"/>
<text x="305" y="270.0" font-size="6.9" textLength="193.2" lengthAdjust="spacingAndGlyphs" fill="#2a2a2a">Last dose of ruxolitinib for patients that have ended treatment</text>
<text x="7.4" y="395" font-size="12.7" font-weight="bold" fill="#000">B</text>
<text x="43.7" y="390" font-size="6.9" font-weight="bold" textLength="31.3" lengthAdjust="spacingAndGlyphs" fill="#000">Subgroup</text>
<text x="223.3" y="390" font-size="6.9" text-anchor="middle" font-weight="bold" textLength="35" lengthAdjust="spacingAndGlyphs" fill="#000">Patients, n</text>
<text x="443.3" y="390" font-size="6.9" font-weight="bold" textLength="44.4" lengthAdjust="spacingAndGlyphs" fill="#000">ORR (95% CI)</text>
<rect x="42" y="395.10" width="448.8" height="7.0" fill="#ebebef"/>
<rect x="341.26" y="395.10" width="39.02" height="7.0" fill="#fafafb"/>
<rect x="341.26" y="398.10" width="39.02" height="1.0" fill="#33528c"/>
<rect x="340.81" y="396.10" width="0.9" height="5" fill="#33528c"/>
<rect x="379.83" y="396.10" width="0.9" height="5" fill="#33528c"/>
<rect x="359.31" y="396.90" width="3.4" height="3.4" fill="#1d3a73"/>
<text x="43.7" y="401.2" font-size="7.3" font-weight="bold" textLength="36.22" lengthAdjust="spacingAndGlyphs" fill="#000">All patients</text>
<text x="222.9" y="401.2" font-size="7.4" text-anchor="middle" textLength="7.68" lengthAdjust="spacingAndGlyphs" fill="#333">71</text>
<text x="440.8" y="401.2" font-size="7.4" textLength="49.54" lengthAdjust="spacingAndGlyphs" fill="#333">54.9 (42.7–66.8)</text>
<text x="43.7" y="409.55" font-size="7.3" font-weight="bold" textLength="12.7" lengthAdjust="spacingAndGlyphs" fill="#000">Age</text>
<rect x="344.82" y="413.95" width="42.90" height="1.0" fill="#33528c"/>
<rect x="344.37" y="411.95" width="0.9" height="5" fill="#33528c"/>
<rect x="387.28" y="411.95" width="0.9" height="5" fill="#33528c"/>
<rect x="365.30" y="412.75" width="3.4" height="3.4" fill="#1d3a73"/>
<text x="47.8" y="417.05" font-size="7.4" textLength="17.32" lengthAdjust="spacingAndGlyphs" fill="#333">&lt;65 y</text>
<text x="222.9" y="417.05" font-size="7.4" text-anchor="middle" textLength="7.68" lengthAdjust="spacingAndGlyphs" fill="#333">58</text>
<text x="440.8" y="417.05" font-size="7.4" textLength="49.54" lengthAdjust="spacingAndGlyphs" fill="#333">58.6 (44.9–71.4)</text>
<rect x="294.63" y="421.45" width="88.24" height="1.0" fill="#33528c"/>
<rect x="294.18" y="419.45" width="0.9" height="5" fill="#33528c"/>
<rect x="382.42" y="419.45" width="0.9" height="5" fill="#33528c"/>
<rect x="332.76" y="420.25" width="3.4" height="3.4" fill="#1d3a73"/>
<text x="47.8" y="424.55" font-size="7.4" textLength="17.07" lengthAdjust="spacingAndGlyphs" fill="#333">≥65 y</text>
<text x="222.9" y="424.55" font-size="7.4" text-anchor="middle" textLength="7.68" lengthAdjust="spacingAndGlyphs" fill="#333">13</text>
<text x="440.8" y="424.55" font-size="7.4" textLength="49.54" lengthAdjust="spacingAndGlyphs" fill="#333">38.5 (13.9–68.4)</text>
<rect x="42" y="425.95" width="448.8" height="7.0" fill="#ebebef"/>
<text x="43.7" y="432.05" font-size="7.3" font-weight="bold" textLength="11.96" lengthAdjust="spacingAndGlyphs" fill="#000">Sex</text>
<rect x="42" y="433.45" width="448.8" height="7.0" fill="#ebebef"/>
<rect x="340.29" y="433.45" width="55.05" height="7.0" fill="#f3f3f6"/>
<rect x="340.29" y="436.45" width="55.05" height="1.0" fill="#33528c"/>
<rect x="339.84" y="434.45" width="0.9" height="5" fill="#33528c"/>
<rect x="394.89" y="434.45" width="0.9" height="5" fill="#33528c"/>
<rect x="367.57" y="435.25" width="3.4" height="3.4" fill="#1d3a73"/>
<text x="47.8" y="439.55" font-size="7.4" textLength="15.17" lengthAdjust="spacingAndGlyphs" fill="#333">Male</text>
<text x="222.9" y="439.55" font-size="7.4" text-anchor="middle" textLength="7.68" lengthAdjust="spacingAndGlyphs" fill="#333">35</text>
<text x="440.8" y="439.55" font-size="7.4" textLength="49.54" lengthAdjust="spacingAndGlyphs" fill="#333">60.0 (42.1–76.1)</text>
<rect x="42" y="440.95" width="448.8" height="7.0" fill="#ebebef"/>
<rect x="325.40" y="440.95" width="55.37" height="7.0" fill="#f3f3f6"/>
<rect x="325.40" y="443.95" width="55.37" height="1.0" fill="#33528c"/>
<rect x="324.95" y="441.95" width="0.9" height="5" fill="#33528c"/>
<rect x="380.31" y="441.95" width="0.9" height="5" fill="#33528c"/>
<rect x="351.38" y="442.75" width="3.4" height="3.4" fill="#1d3a73"/>
<text x="47.8" y="447.05" font-size="7.4" textLength="23.34" lengthAdjust="spacingAndGlyphs" fill="#333">Female</text>
<text x="222.9" y="447.05" font-size="7.4" text-anchor="middle" textLength="7.68" lengthAdjust="spacingAndGlyphs" fill="#333">36</text>
<text x="440.8" y="447.05" font-size="7.4" textLength="49.54" lengthAdjust="spacingAndGlyphs" fill="#333">50.0 (32.9–67.1)</text>
<text x="43.7" y="454.55" font-size="7.3" font-weight="bold" textLength="16.07" lengthAdjust="spacingAndGlyphs" fill="#000">Race</text>
<rect x="342.23" y="458.95" width="40.47" height="1.0" fill="#33528c"/>
<rect x="341.78" y="456.95" width="0.9" height="5" fill="#33528c"/>
<rect x="382.26" y="456.95" width="0.9" height="5" fill="#33528c"/>
<rect x="361.26" y="457.75" width="3.4" height="3.4" fill="#1d3a73"/>
<text x="47.8" y="462.05" font-size="7.4" textLength="17.89" lengthAdjust="spacingAndGlyphs" fill="#333">White</text>
<text x="222.9" y="462.05" font-size="7.4" text-anchor="middle" textLength="7.68" lengthAdjust="spacingAndGlyphs" fill="#333">66</text>
<text x="440.8" y="462.05" font-size="7.4" textLength="49.54" lengthAdjust="spacingAndGlyphs" fill="#333">56.1 (43.3–68.3)</text>
<rect x="280.71" y="466.45" width="129.52" height="1.0" fill="#33528c"/>
<rect x="280.26" y="464.45" width="0.9" height="5" fill="#33528c"/>
<rect x="409.78" y="464.45" width="0.9" height="5" fill="#33528c"/>
<rect x="335.19" y="465.25" width="3.4" height="3.4" fill="#1d3a73"/>
<text x="47.8" y="469.55" font-size="7.4" textLength="17.51" lengthAdjust="spacingAndGlyphs" fill="#333">Other</text>
<text x="222.9" y="469.55" font-size="7.4" text-anchor="middle" textLength="3.84" lengthAdjust="spacingAndGlyphs" fill="#333">5</text>
<text x="440.8" y="469.55" font-size="7.4" textLength="45.78" lengthAdjust="spacingAndGlyphs" fill="#333">40.0 (5.3–85.3)</text>
<rect x="42" y="470.95" width="448.8" height="7.0" fill="#ebebef"/>
<text x="43.7" y="477.05" font-size="7.3" font-weight="bold" textLength="72.83" lengthAdjust="spacingAndGlyphs" fill="#000">Baseline aGVHD grade</text>
<rect x="42" y="478.45" width="448.8" height="7.0" fill="#ebebef"/>
<rect x="371.21" y="481.45" width="54.72" height="1.0" fill="#33528c"/>
<rect x="370.76" y="479.45" width="0.9" height="5" fill="#33528c"/>
<rect x="425.49" y="479.45" width="0.9" height="5" fill="#33528c"/>
<rect x="404.16" y="480.25" width="3.4" height="3.4" fill="#1d3a73"/>
<text x="47.8" y="484.55" font-size="7.4" textLength="25.29" lengthAdjust="spacingAndGlyphs" fill="#333">Grade II</text>
<text x="222.9" y="484.55" font-size="7.4" text-anchor="middle" textLength="7.68" lengthAdjust="spacingAndGlyphs" fill="#333">23</text>
<text x="440.8" y="484.55" font-size="7.4" textLength="49.54" lengthAdjust="spacingAndGlyphs" fill="#333">82.6 (61.2–95.0)</text>
<rect x="42" y="485.95" width="448.8" height="7.0" fill="#ebebef"/>
<rect x="311.96" y="488.95" width="56.18" height="1.0" fill="#33528c"/>
<rect x="311.51" y="486.95" width="0.9" height="5" fill="#33528c"/>
<rect x="367.69" y="486.95" width="0.9" height="5" fill="#33528c"/>
<rect x="337.13" y="487.75" width="3.4" height="3.4" fill="#1d3a73"/>
<text x="47.8" y="492.05" font-size="7.4" textLength="27.23" lengthAdjust="spacingAndGlyphs" fill="#333">Grade III</text>
<text x="222.9" y="492.05" font-size="7.4" text-anchor="middle" textLength="7.68" lengthAdjust="spacingAndGlyphs" fill="#333">34</text>
<text x="440.8" y="492.05" font-size="7.4" textLength="49.54" lengthAdjust="spacingAndGlyphs" fill="#333">41.2 (24.6–59.3)</text>
<rect x="42" y="493.45" width="448.8" height="7.0" fill="#ebebef"/>
<rect x="300.79" y="496.45" width="86.45" height="1.0" fill="#33528c"/>
<rect x="300.34" y="494.45" width="0.9" height="5" fill="#33528c"/>
<rect x="386.79" y="494.45" width="0.9" height="5" fill="#33528c"/>
<rect x="339.89" y="495.25" width="3.4" height="3.4" fill="#1d3a73"/>
<text x="47.8" y="499.55" font-size="7.4" textLength="28.01" lengthAdjust="spacingAndGlyphs" fill="#333">Grade IV</text>
<text x="222.9" y="499.55" font-size="7.4" text-anchor="middle" textLength="7.68" lengthAdjust="spacingAndGlyphs" fill="#333">14</text>
<text x="440.8" y="499.55" font-size="7.4" textLength="49.54" lengthAdjust="spacingAndGlyphs" fill="#333">42.9 (17.7–71.1)</text>
<text x="43.7" y="507.05" font-size="7.3" font-weight="bold" textLength="107.19" lengthAdjust="spacingAndGlyphs" fill="#000">Baseline steroid-refractory status</text>
<rect x="334.30" y="511.45" width="73.34" height="1.0" fill="#33528c"/>
<rect x="333.85" y="509.45" width="0.9" height="5" fill="#33528c"/>
<rect x="407.19" y="509.45" width="0.9" height="5" fill="#33528c"/>
<rect x="372.75" y="510.25" width="3.4" height="3.4" fill="#1d3a73"/>
<text x="47.8" y="514.55" font-size="7.4" textLength="99.99" lengthAdjust="spacingAndGlyphs" fill="#333">GVHD progression after 3 days*</text>
<text x="222.9" y="514.55" font-size="7.4" text-anchor="middle" textLength="7.68" lengthAdjust="spacingAndGlyphs" fill="#333">19</text>
<text x="440.8" y="514.55" font-size="7.4" textLength="49.54" lengthAdjust="spacingAndGlyphs" fill="#333">63.2 (38.4–83.7)</text>
<rect x="317.95" y="518.95" width="60.55" height="1.0" fill="#33528c"/>
<rect x="317.50" y="516.95" width="0.9" height="5" fill="#33528c"/>
<rect x="378.05" y="516.95" width="0.9" height="5" fill="#33528c"/>
<rect x="346.04" y="517.75" width="3.4" height="3.4" fill="#1d3a73"/>
<text x="47.8" y="522.05" font-size="7.4" textLength="122.16" lengthAdjust="spacingAndGlyphs" fill="#333">No improvement in GVHD after 7 days*</text>
<text x="222.9" y="522.05" font-size="7.4" text-anchor="middle" textLength="7.68" lengthAdjust="spacingAndGlyphs" fill="#333">30</text>
<text x="440.8" y="522.05" font-size="7.4" textLength="49.54" lengthAdjust="spacingAndGlyphs" fill="#333">46.7 (28.3–65.7)</text>
<rect x="297.55" y="526.45" width="111.06" height="1.0" fill="#33528c"/>
<rect x="297.10" y="524.45" width="0.9" height="5" fill="#33528c"/>
<rect x="408.16" y="524.45" width="0.9" height="5" fill="#33528c"/>
<rect x="351.38" y="525.25" width="3.4" height="3.4" fill="#1d3a73"/>
<text x="48.6" y="529.55" font-size="7.4" textLength="40.07" lengthAdjust="spacingAndGlyphs" fill="#333">New GVHD<tspan font-size="4.5" dy="-2.2">†</tspan></text>
<text x="222.9" y="529.55" font-size="7.4" text-anchor="middle" textLength="3.84" lengthAdjust="spacingAndGlyphs" fill="#333">8</text>
<text x="440.8" y="529.55" font-size="7.4" textLength="49.54" lengthAdjust="spacingAndGlyphs" fill="#333">50.0 (15.7–84.3)</text>
<rect x="328.96" y="533.95" width="84.35" height="1.0" fill="#33528c"/>
<rect x="328.51" y="531.95" width="0.9" height="5" fill="#33528c"/>
<rect x="412.86" y="531.95" width="0.9" height="5" fill="#33528c"/>
<rect x="374.53" y="532.75" width="3.4" height="3.4" fill="#1d3a73"/>
<text x="47.8" y="537.05" font-size="7.4" textLength="48.25" lengthAdjust="spacingAndGlyphs" fill="#333">Taper intolerant</text>
<text x="222.9" y="537.05" font-size="7.4" text-anchor="middle" textLength="7.68" lengthAdjust="spacingAndGlyphs" fill="#333">14</text>
<text x="440.8" y="537.05" font-size="7.4" textLength="49.54" lengthAdjust="spacingAndGlyphs" fill="#333">64.3 (35.1–87.2)</text>
<rect x="42" y="538.45" width="448.8" height="7.0" fill="#ebebef"/>
<text x="43.7" y="544.55" font-size="7.3" font-weight="bold" textLength="43.33" lengthAdjust="spacingAndGlyphs" fill="#000">Baseline liver</text>
<rect x="42" y="545.95" width="448.8" height="7.0" fill="#ebebef"/>
<rect x="350.65" y="548.95" width="43.07" height="1.0" fill="#33528c"/>
<rect x="350.20" y="546.95" width="0.9" height="5" fill="#33528c"/>
<rect x="393.27" y="546.95" width="0.9" height="5" fill="#33528c"/>
<rect x="371.62" y="547.75" width="3.4" height="3.4" fill="#1d3a73"/>
<text x="47.8" y="552.05" font-size="7.4" textLength="24.13" lengthAdjust="spacingAndGlyphs" fill="#333">Stage 0</text>
<text x="222.9" y="552.05" font-size="7.4" text-anchor="middle" textLength="7.68" lengthAdjust="spacingAndGlyphs" fill="#333">56</text>
<text x="440.8" y="552.05" font-size="7.4" textLength="49.54" lengthAdjust="spacingAndGlyphs" fill="#333">62.5 (48.5–75.1)</text>
<rect x="42" y="553.45" width="448.8" height="7.0" fill="#ebebef"/>
<rect x="284.76" y="556.45" width="76.58" height="1.0" fill="#33528c"/>
<rect x="284.31" y="554.45" width="0.9" height="5" fill="#33528c"/>
<rect x="360.89" y="554.45" width="0.9" height="5" fill="#33528c"/>
<rect x="313.66" y="555.25" width="3.4" height="3.4" fill="#1d3a73"/>
<text x="47.8" y="559.55" font-size="7.4" textLength="40.08" lengthAdjust="spacingAndGlyphs" fill="#333">Other stages</text>
<text x="222.9" y="559.55" font-size="7.4" text-anchor="middle" textLength="7.68" lengthAdjust="spacingAndGlyphs" fill="#333">15</text>
<text x="442.8" y="559.55" font-size="7.4" textLength="45.78" lengthAdjust="spacingAndGlyphs" fill="#333">26.7 (7.8–55.1)</text>
<text x="43.7" y="567.05" font-size="7.3" font-weight="bold" textLength="57.14" lengthAdjust="spacingAndGlyphs" fill="#000">Baseline upper GI</text>
<rect x="343.69" y="571.45" width="46.63" height="1.0" fill="#33528c"/>
<rect x="343.24" y="569.45" width="0.9" height="5" fill="#33528c"/>
<rect x="389.87" y="569.45" width="0.9" height="5" fill="#33528c"/>
<rect x="366.27" y="570.25" width="3.4" height="3.4" fill="#1d3a73"/>
<text x="47.8" y="574.55" font-size="7.4" textLength="24.13" lengthAdjust="spacingAndGlyphs" fill="#333">Stage 0</text>
<text x="222.9" y="574.55" font-size="7.4" text-anchor="middle" textLength="7.68" lengthAdjust="spacingAndGlyphs" fill="#333">49</text>
<text x="440.8" y="574.55" font-size="7.4" textLength="49.54" lengthAdjust="spacingAndGlyphs" fill="#333">59.2 (44.2–73.0)</text>
<rect x="311.63" y="578.95" width="70.26" height="1.0" fill="#33528c"/>
<rect x="311.18" y="576.95" width="0.9" height="5" fill="#33528c"/>
<rect x="381.45" y="576.95" width="0.9" height="5" fill="#33528c"/>
<rect x="344.09" y="577.75" width="3.4" height="3.4" fill="#1d3a73"/>
<text x="47.8" y="582.05" font-size="7.4" textLength="24.13" lengthAdjust="spacingAndGlyphs" fill="#333">Stage 1</text>
<text x="222.9" y="582.05" font-size="7.4" text-anchor="middle" textLength="7.68" lengthAdjust="spacingAndGlyphs" fill="#333">22</text>
<text x="440.8" y="582.05" font-size="7.4" textLength="49.54" lengthAdjust="spacingAndGlyphs" fill="#333">45.5 (24.4–67.8)</text>
<rect x="42" y="583.45" width="448.8" height="7.0" fill="#ebebef"/>
<text x="43.7" y="589.55" font-size="7.3" font-weight="bold" textLength="56.02" lengthAdjust="spacingAndGlyphs" fill="#000">Baseline lower GI</text>
<rect x="42" y="590.95" width="448.8" height="7.0" fill="#ebebef"/>
<rect x="357.61" y="593.95" width="63.14" height="1.0" fill="#33528c"/>
<rect x="357.16" y="591.95" width="0.9" height="5" fill="#33528c"/>
<rect x="420.30" y="591.95" width="0.9" height="5" fill="#33528c"/>
<rect x="393.80" y="592.75" width="3.4" height="3.4" fill="#1d3a73"/>
<text x="47.8" y="597.05" font-size="7.4" textLength="24.13" lengthAdjust="spacingAndGlyphs" fill="#333">Stage 0</text>
<text x="222.9" y="597.05" font-size="7.4" text-anchor="middle" textLength="7.68" lengthAdjust="spacingAndGlyphs" fill="#333">21</text>
<text x="440.8" y="597.05" font-size="7.4" textLength="49.54" lengthAdjust="spacingAndGlyphs" fill="#333">76.2 (52.8–91.8)</text>
<rect x="42" y="598.45" width="448.8" height="7.0" fill="#ebebef"/>
<rect x="323.61" y="601.45" width="46.79" height="1.0" fill="#33528c"/>
<rect x="323.16" y="599.45" width="0.9" height="5" fill="#33528c"/>
<rect x="369.95" y="599.45" width="0.9" height="5" fill="#33528c"/>
<rect x="344.90" y="600.25" width="3.4" height="3.4" fill="#1d3a73"/>
<text x="47.8" y="604.55" font-size="7.4" textLength="40.08" lengthAdjust="spacingAndGlyphs" fill="#333">Other stages</text>
<text x="222.9" y="604.55" font-size="7.4" text-anchor="middle" textLength="7.68" lengthAdjust="spacingAndGlyphs" fill="#333">50</text>
<text x="440.8" y="604.55" font-size="7.4" textLength="49.54" lengthAdjust="spacingAndGlyphs" fill="#333">46.0 (31.8–60.7)</text>
<text x="43.7" y="612.05" font-size="7.3" font-weight="bold" textLength="59.02" lengthAdjust="spacingAndGlyphs" fill="#000">Baseline skin rash</text>
<rect x="322.97" y="616.45" width="56.02" height="1.0" fill="#33528c"/>
<rect x="322.52" y="614.45" width="0.9" height="5" fill="#33528c"/>
<rect x="378.53" y="614.45" width="0.9" height="5" fill="#33528c"/>
<rect x="349.11" y="615.25" width="3.4" height="3.4" fill="#1d3a73"/>
<text x="47.8" y="619.55" font-size="7.4" textLength="24.13" lengthAdjust="spacingAndGlyphs" fill="#333">Stage 0</text>
<text x="222.9" y="619.55" font-size="7.4" text-anchor="middle" textLength="7.68" lengthAdjust="spacingAndGlyphs" fill="#333">35</text>
<text x="440.8" y="619.55" font-size="7.4" textLength="49.54" lengthAdjust="spacingAndGlyphs" fill="#333">48.6 (31.4–66.0)</text>
<rect x="342.56" y="623.95" width="54.07" height="1.0" fill="#33528c"/>
<rect x="342.11" y="621.95" width="0.9" height="5" fill="#33528c"/>
<rect x="396.18" y="621.95" width="0.9" height="5" fill="#33528c"/>
<rect x="369.35" y="622.75" width="3.4" height="3.4" fill="#1d3a73"/>
<text x="47.8" y="627.05" font-size="7.4" textLength="40.08" lengthAdjust="spacingAndGlyphs" fill="#333">Other stages</text>
<text x="222.9" y="627.05" font-size="7.4" text-anchor="middle" textLength="7.68" lengthAdjust="spacingAndGlyphs" fill="#333">36</text>
<text x="440.8" y="627.05" font-size="7.4" textLength="49.54" lengthAdjust="spacingAndGlyphs" fill="#333">61.1 (43.5–76.9)</text>
<rect x="268.8" y="630.3" width="168.1" height="1.1" fill="#000"/>
<rect x="271.10" y="630.8" width="1" height="2.7" fill="#000"/>
<text x="271.6" y="643.8" font-size="6.8" text-anchor="middle" fill="#2a2a2a">0</text>
<rect x="287.30" y="630.8" width="1" height="2.7" fill="#000"/>
<text x="287.8" y="643.8" font-size="6.8" text-anchor="middle" fill="#2a2a2a">10</text>
<rect x="303.50" y="630.8" width="1" height="2.7" fill="#000"/>
<text x="304.0" y="643.8" font-size="6.8" text-anchor="middle" fill="#2a2a2a">20</text>
<rect x="319.70" y="630.8" width="1" height="2.7" fill="#000"/>
<text x="320.2" y="643.8" font-size="6.8" text-anchor="middle" fill="#2a2a2a">30</text>
<rect x="335.90" y="630.8" width="1" height="2.7" fill="#000"/>
<text x="336.4" y="643.8" font-size="6.8" text-anchor="middle" fill="#2a2a2a">40</text>
<rect x="352.10" y="630.8" width="1" height="2.7" fill="#000"/>
<text x="352.6" y="643.8" font-size="6.8" text-anchor="middle" fill="#2a2a2a">50</text>
<rect x="368.30" y="630.8" width="1" height="2.7" fill="#000"/>
<text x="368.8" y="643.8" font-size="6.8" text-anchor="middle" fill="#2a2a2a">60</text>
<rect x="384.50" y="630.8" width="1" height="2.7" fill="#000"/>
<text x="385.0" y="643.8" font-size="6.8" text-anchor="middle" fill="#2a2a2a">70</text>
<rect x="400.70" y="630.8" width="1" height="2.7" fill="#000"/>
<text x="401.2" y="643.8" font-size="6.8" text-anchor="middle" fill="#2a2a2a">80</text>
<rect x="416.90" y="630.8" width="1" height="2.7" fill="#000"/>
<text x="417.4" y="643.8" font-size="6.8" text-anchor="middle" fill="#2a2a2a">90</text>
<rect x="433.10" y="630.8" width="1" height="2.7" fill="#000"/>
<text x="433.6" y="643.8" font-size="6.8" text-anchor="middle" fill="#2a2a2a">100</text>
<text x="353.0" y="656.4" font-size="10.2" text-anchor="middle" textLength="23.6" lengthAdjust="spacingAndGlyphs" fill="#2a2a2a">ORR, %</text>
</svg>
</body></html>
